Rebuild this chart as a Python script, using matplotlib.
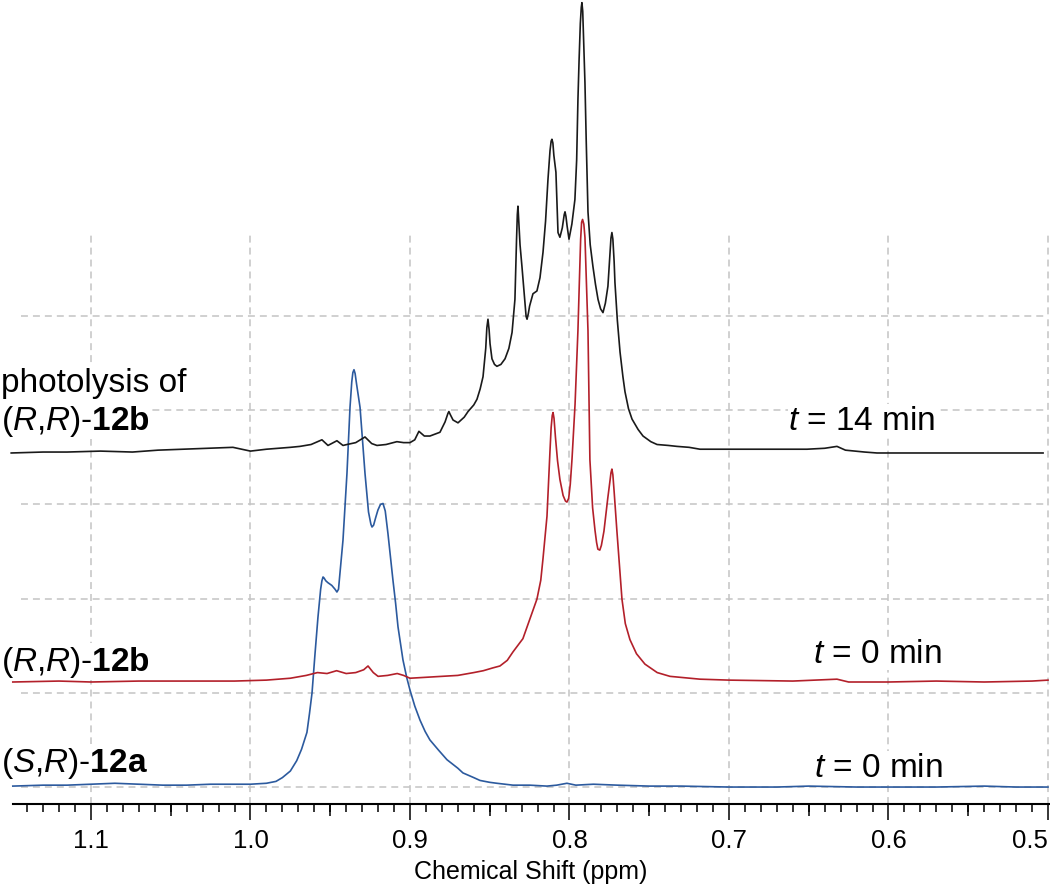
import matplotlib
matplotlib.use("Agg")
from matplotlib import pyplot as plt
from matplotlib.ticker import NullLocator
import numpy as np

plt.rcParams['font.family'] = ['Liberation Sans', 'DejaVu Sans']
plt.rcParams['mathtext.fontset'] = 'custom'
plt.rcParams['mathtext.rm'] = 'Liberation Sans'
plt.rcParams['mathtext.it'] = 'Liberation Sans:italic'
plt.rcParams['mathtext.bf'] = 'Liberation Sans:bold'
plt.rcParams['lines.scale_dashes'] = False

# (S,R)-12a, t = 0 min  (bottom, blue)
ppm_a = [1.149, 1.130, 1.115, 1.100, 1.085, 1.070, 1.055, 1.040, 1.025, 1.010,
         1.000, 0.990, 0.984, 0.980, 0.975, 0.971, 0.968, 0.9646, 0.9630, 0.9614,
         0.9596, 0.9577, 0.9560, 0.9552, 0.9545, 0.9539, 0.9528, 0.9515, 0.9490, 0.9470,
         0.9458, 0.9448, 0.9440, 0.9420, 0.9395, 0.9376, 0.9365, 0.9358, 0.9351, 0.9344,
         0.9335, 0.9313, 0.9282, 0.9260, 0.9245, 0.9238, 0.9228, 0.9215, 0.9201, 0.9185,
         0.9169, 0.9155, 0.9138, 0.9107, 0.9090, 0.9075, 0.9044, 0.9020, 0.9000, 0.8970,
         0.8937, 0.8905, 0.8875, 0.8820, 0.8768, 0.8700, 0.8668, 0.8600, 0.8561, 0.8500,
         0.8455, 0.8354, 0.8250, 0.8141, 0.8080, 0.8016, 0.7960, 0.7850, 0.7700, 0.7500,
         0.7300, 0.7000, 0.6700, 0.6500, 0.6200, 0.6000, 0.5700, 0.5400, 0.5200, 0.5000]
int_a = [0.01, 0.02, 0.02, 0.03, 0.04, 0.03, 0.02, 0.02, 0.03, 0.03,
         0.03, 0.04, 0.06, 0.10, 0.17, 0.28, 0.40, 0.58, 0.78, 1.00,
         1.40, 1.80, 2.10, 2.19, 2.23, 2.22, 2.19, 2.17, 2.14, 2.10,
         2.07, 2.10, 2.25, 2.62, 3.33, 4.03, 4.30, 4.40, 4.43, 4.39,
         4.28, 4.03, 3.33, 2.92, 2.79, 2.76, 2.78, 2.86, 2.94, 3.00,
         3.01, 2.93, 2.69, 2.20, 1.95, 1.70, 1.35, 1.16, 1.03, 0.86,
         0.71, 0.59, 0.50, 0.39, 0.29, 0.20, 0.15, 0.10, 0.07, 0.05,
         0.04, 0.02, 0.02, 0.01, 0.02, 0.04, 0.02, 0.03, 0.02, 0.01,
         0.01, 0.00, 0.00, 0.01, 0.00, 0.00, 0.00, 0.01, 0.00, 0.00]

# (R,R)-12b, t = 0 min  (middle, red)
ppm_b = [1.149, 1.120, 1.100, 1.070, 1.040, 1.010, 0.990, 0.975, 0.965, 0.958,
         0.952, 0.946, 0.940, 0.934, 0.9290, 0.9263, 0.9230, 0.9200, 0.9140, 0.9080,
         0.9040, 0.9000, 0.8900, 0.8800, 0.8700, 0.8600, 0.8540, 0.8480, 0.8436, 0.8390,
         0.8354, 0.8292, 0.8248, 0.8204, 0.8180, 0.8166, 0.8141, 0.8122, 0.8115, 0.8108,
         0.8103, 0.8097, 0.8088, 0.8075, 0.8060, 0.8040, 0.8025, 0.8016, 0.8005, 0.7995,
         0.7984, 0.7965, 0.7947, 0.7938, 0.7930, 0.7924, 0.7918, 0.7910, 0.7903, 0.7895,
         0.7884, 0.7872, 0.7855, 0.7840, 0.7830, 0.7822, 0.7810, 0.7800, 0.7784, 0.7760,
         0.7745, 0.7740, 0.7734, 0.7728, 0.7720, 0.7703, 0.7671, 0.7650, 0.7621, 0.7580,
         0.7527, 0.7450, 0.7370, 0.7182, 0.7000, 0.6600, 0.6323, 0.6250, 0.6000, 0.5700,
         0.5400, 0.5100, 0.5000]
int_b = [0.00, 0.01, 0.00, 0.01, 0.01, 0.01, 0.02, 0.04, 0.07, 0.10,
         0.09, 0.12, 0.09, 0.10, 0.13, 0.17, 0.10, 0.06, 0.07, 0.09,
         0.07, 0.04, 0.05, 0.06, 0.07, 0.10, 0.12, 0.15, 0.17, 0.23,
         0.32, 0.46, 0.67, 0.88, 1.08, 1.31, 1.76, 2.46, 2.70, 2.83,
         2.86, 2.80, 2.60, 2.35, 2.15, 1.98, 1.92, 1.91, 1.95, 2.10,
         2.37, 2.95, 3.73, 4.25, 4.70, 4.88, 4.91, 4.86, 4.72, 4.30,
         3.73, 2.36, 1.85, 1.61, 1.48, 1.41, 1.40, 1.45, 1.60, 1.95,
         2.15, 2.22, 2.26, 2.20, 2.02, 1.61, 0.88, 0.62, 0.45, 0.30,
         0.19, 0.10, 0.06, 0.03, 0.02, 0.01, 0.03, 0.00, 0.00, 0.01,
         0.00, 0.01, 0.02]

# photolysis of (R,R)-12b, t = 14 min  (top, black)
ppm_c = [1.150, 1.130, 1.115, 1.094, 1.074, 1.058, 1.042, 1.025, 1.011, 1.000,
         0.990, 0.975, 0.969, 0.962, 0.9552, 0.9514, 0.9458, 0.9420, 0.9395, 0.9340,
         0.9282, 0.9240, 0.9207, 0.9150, 0.9082, 0.9040, 0.9000, 0.8970, 0.8944, 0.8910,
         0.8875, 0.8812, 0.8780, 0.8762, 0.8756, 0.8748, 0.8730, 0.8699, 0.8660, 0.8636,
         0.8600, 0.8580, 0.8560, 0.8542, 0.8525, 0.8518, 0.8511, 0.8504, 0.8498, 0.8486,
         0.8470, 0.8455, 0.8430, 0.8404, 0.8380, 0.8360, 0.8342, 0.8332, 0.8327, 0.8323,
         0.8318, 0.8310, 0.8298, 0.8280, 0.8272, 0.8266, 0.8258, 0.8250, 0.8229, 0.8204,
         0.8185, 0.8166, 0.8150, 0.8135, 0.8122, 0.8115, 0.8110, 0.8104, 0.8098, 0.8085,
         0.8072, 0.8060, 0.8045, 0.8033, 0.8028, 0.8022, 0.8015, 0.8003, 0.7985, 0.7966,
         0.7955, 0.7947, 0.7940, 0.7932, 0.7926, 0.7922, 0.7917, 0.7910, 0.7903, 0.7895,
         0.7884, 0.7870, 0.7853, 0.7837, 0.7821, 0.7805, 0.7790, 0.7775, 0.7759, 0.7745,
         0.7740, 0.7734, 0.7728, 0.7720, 0.7715, 0.7700, 0.7683, 0.7665, 0.7652, 0.7630,
         0.7608, 0.7570, 0.7539, 0.7490, 0.7451, 0.7380, 0.7326, 0.7250, 0.7182, 0.7000,
         0.6800, 0.6650, 0.6511, 0.6400, 0.6323, 0.6270, 0.6150, 0.6072, 0.5800, 0.5500,
         0.5200, 0.5031]
int_c = [-0.01, 0.00, 0.00, 0.01, 0.00, 0.02, 0.03, 0.04, 0.05, 0.01,
         0.03, 0.05, 0.06, 0.08, 0.13, 0.07, 0.12, 0.07, 0.08, 0.10,
         0.16, 0.09, 0.07, 0.08, 0.11, 0.10, 0.10, 0.13, 0.22, 0.17,
         0.17, 0.21, 0.32, 0.41, 0.43, 0.40, 0.34, 0.31, 0.37, 0.43,
         0.50, 0.56, 0.67, 0.80, 1.10, 1.32, 1.41, 1.30, 1.15, 0.99,
         0.93, 0.91, 0.93, 0.99, 1.10, 1.27, 1.62, 2.25, 2.52, 2.61,
         2.45, 2.20, 1.97, 1.60, 1.44, 1.41, 1.47, 1.55, 1.68, 1.71,
         1.85, 2.12, 2.45, 2.89, 3.20, 3.30, 3.32, 3.28, 3.15, 2.97,
         2.33, 2.28, 2.38, 2.52, 2.55, 2.50, 2.40, 2.26, 2.42, 2.68,
         3.10, 3.74, 4.15, 4.55, 4.72, 4.77, 4.68, 4.30, 3.92, 3.30,
         2.55, 2.20, 1.97, 1.78, 1.62, 1.52, 1.48, 1.58, 1.76, 2.15,
         2.27, 2.33, 2.26, 2.02, 1.80, 1.40, 1.06, 0.80, 0.64, 0.46,
         0.35, 0.24, 0.17, 0.11, 0.08, 0.07, 0.06, 0.05, 0.03, 0.03,
         0.03, 0.03, 0.03, 0.04, 0.06, 0.02, 0.00, -0.01, -0.01, -0.01,
         -0.01, -0.01]

offsets = [0.0, 1.115, 3.556]
colors = ['#2c5a9e', '#b3202a', '#1a1a1a']

grid_levels = [0, 1, 2, 3, 4, 5]
major_ppm = [1.1, 1.0, 0.9, 0.8, 0.7, 0.6, 0.5]
major_labels = ['1.1', '1.0', '0.9', '0.8', '0.7', '0.6', '0.5']
mid_ppm = [1.05, 0.95, 0.85, 0.75, 0.65, 0.55]
minor_ppm = list(np.round(np.arange(51, 115) / 100.0, 2))

W, H = 1050, 887
fig = plt.figure(figsize=(W / 100, H / 100), dpi=100)
ax = fig.add_axes([12.8 / W, (H - 805) / H, 1036 / W, 805 / H])
ax.set_xlim(1.149, 0.4995)
ax.set_ylim(-0.18, 8.365)

# dashed grid, limited to the lower box like the original
gcol = '#c4c4c4'
ax.hlines(grid_levels, 1.144, 0.5, colors=gcol, linewidth=1.1,
          linestyles=(0, (5, 3.6)), zorder=1)
ax.vlines(major_ppm, -0.18, 5.885, colors=gcol, linewidth=1.1,
          linestyles=(0, (5, 3.6)), zorder=1, clip_on=False)

spectra = [(ppm_a, int_a), (ppm_b, int_b), (ppm_c, int_c)]
for (x, y), off, c in zip(spectra, offsets, colors):
    ax.plot(x, np.array(y) + off, color=c, linewidth=1.2, zorder=3,
            clip_on=False, solid_joinstyle='round')

for s in ['left', 'right', 'top']:
    ax.spines[s].set_visible(False)
ax.spines['bottom'].set_linewidth(1.5)
ax.set_yticks([])
ax.set_xticks(major_ppm)
ax.set_xticklabels(major_labels)
ax.set_xticks(minor_ppm, minor=True)
ax.tick_params(axis='x', which='major', length=11.5, width=1.1, pad=5.5, labelsize=18.5)
ax.tick_params(axis='x', which='minor', length=5.8, width=1.1)
# last label sits flush with the right edge
ax.get_xticklabels()[-1].set_horizontalalignment('right')

sec = ax.secondary_xaxis('bottom')
sec.set_xticks(mid_ppm)
sec.xaxis.set_minor_locator(NullLocator())
sec.tick_params(axis='x', length=8.6, width=1.1, labelbottom=False)
sec.spines['bottom'].set_visible(False)

ax.set_xlabel('Chemical Shift (ppm)', fontsize=18, labelpad=5)

# labels, positioned in pixels of the original figure
box = dict(facecolor='white', edgecolor='none', pad=0.5)
fs = 24
def label(px, py, s, ha='left'):
    fig.text(px / W, 1 - py / H, s, fontsize=fs, ha=ha, va='baseline', bbox=box)

label(1, 392, 'photolysis of')
label(1, 430, r'($\mathit{R}$,$\mathit{R}$)-$\mathbf{12b}$')
label(862, 430, r'$\mathit{t}$ = 14 min', ha='center')
label(1, 671, r'($\mathit{R}$,$\mathit{R}$)-$\mathbf{12b}$')
label(877, 663, r'$\mathit{t}$ = 0 min', ha='center')
label(1, 772, r'($\mathit{S}$,$\mathit{R}$)-$\mathbf{12a}$')
label(878, 777, r'$\mathit{t}$ = 0 min', ha='center')

fig.savefig('out.png', dpi=100)
